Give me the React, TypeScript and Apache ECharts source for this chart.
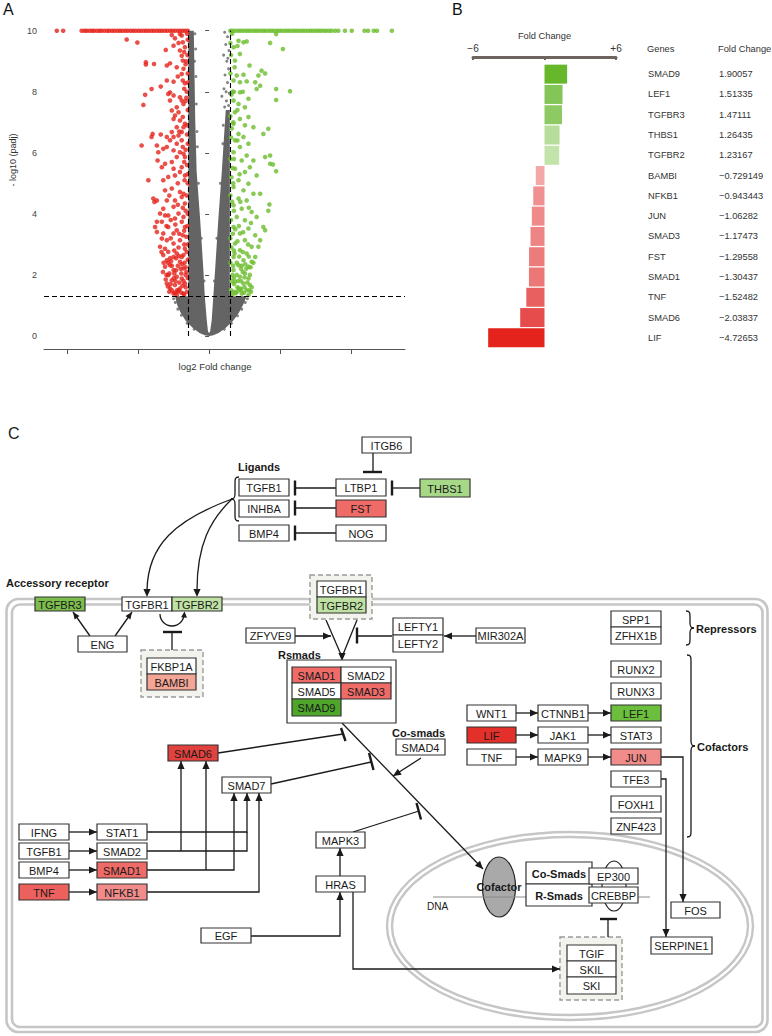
import React, { useEffect, useRef } from "react";
import * as echarts from "echarts";

const FONT = '"Liberation Sans", Arial, Helvetica, sans-serif';

// ---------------- Panel A: volcano plot data (log2 fold change, -log10 padj) ----------------
const xTicksA = [-4, -2, 0, 2, 4];
const foldThreshold = 0.585;
const padjThreshold = 1.3;
const capY = 10;

const redCapX = [-4.29, -4.11, -3.59, -3.51, -3.45, -3.37, -3.3, -3.24, -3.16, -3.09, -3.03, -2.95, -2.87, -2.81, -2.73, -2.66, -2.58, -2.51, -2.44, -2.36, -2.29, -2.21, -2.14, -2.07, -1.99, -1.92, -1.84, -1.77, -1.7, -1.62, -1.55, -1.47, -1.4, -1.33, -1.25, -1.18, -1.1, -1.03, -0.96, -0.88, -0.81, -0.74, -0.67, -0.6];
const greenCapX = [0.6, 0.66, 0.73, 0.81, 0.88, 0.95, 1.03, 1.1, 1.17, 1.25, 1.32, 1.39, 1.47, 1.54, 1.61, 1.69, 1.76, 1.83, 1.91, 1.98, 2.05, 2.13, 2.2, 2.27, 2.35, 2.42, 2.49, 2.57, 2.64, 2.71, 2.79, 2.86, 2.93, 3.01, 3.08, 3.15, 3.23, 3.3, 3.38, 3.45, 3.55, 3.64, 3.83, 4.02, 4.38, 4.48, 4.64, 4.73, 5.15];

const redPoints = [
  [-2.32, 9.71], [-2.02, 9.61], [-1.05, 9.86], [-0.82, 9.89], [-0.77, 9.84], [-0.96, 9.75], [-1.22, 9.37], [-1.0, 9.51], [-0.74, 9.62], [-0.68, 9.46], [-0.82, 9.35], [-1.78, 8.97], [-1.78, 8.89], [-1.55, 8.91], [-1.19, 8.86], [-1.1, 8.93], [-0.77, 9.18], [-0.74, 9.02], [-0.91, 8.8], [-0.72, 8.75], [-0.77, 8.58], [-1.0, 8.33], [-0.74, 8.37], [-0.68, 8.28], [-1.19, 8.37], [-1.36, 8.17], [-1.62, 8.09], [-1.8, 7.9], [-1.85, 7.57], [-1.1, 7.98], [-1.15, 7.93], [-1.0, 7.88], [-0.82, 7.82], [-0.77, 7.71], [-0.72, 7.6], [-0.91, 7.49], [-1.1, 7.71], [-1.05, 7.39], [-0.86, 7.33], [-0.74, 7.17], [-0.96, 7.22], [-1.0, 7.11], [-0.82, 7.06], [-0.68, 6.95], [-0.72, 6.84], [-0.91, 6.84], [-0.77, 6.68], [-1.05, 6.68], [-1.59, 6.62], [-1.62, 6.52], [-1.36, 6.6], [-1.9, 6.24], [-1.19, 6.52], [-1.0, 6.52], [-0.86, 6.57], [-0.77, 6.41], [-0.74, 6.19], [-0.91, 6.3], [-1.1, 6.41], [-1.47, 6.24], [-1.29, 6.13], [-1.43, 6.02], [-1.19, 6.19], [-1.0, 6.08], [-0.82, 6.02], [-0.72, 5.97], [-0.68, 5.86], [-0.91, 5.86], [-1.05, 5.7], [-1.24, 5.64], [-1.45, 5.75], [-1.71, 5.1], [-1.33, 5.53], [-1.0, 5.48], [-0.77, 5.53], [-0.82, 5.37], [-0.96, 5.26], [-0.68, 5.26], [-1.15, 5.21], [-1.29, 5.1], [-1.57, 4.5], [-1.54, 4.39], [-1.47, 4.44], [-1.24, 4.77], [-1.05, 4.83], [-0.82, 4.72], [-0.72, 4.66], [-0.77, 4.55], [-1.19, 4.44], [-0.96, 4.44], [-0.68, 4.34], [-1.0, 4.23], [-1.29, 4.17], [-1.38, 4.01], [-1.15, 3.95], [-0.86, 4.01], [-0.72, 3.9], [-0.96, 3.85], [-1.47, 3.74], [-1.33, 3.74], [-0.77, 3.74], [-0.68, 3.57], [-1.52, 3.57], [-1.15, 3.57], [-0.91, 3.46], [-1.47, 3.41], [-1.29, 3.36], [-1.0, 3.36], [-0.74, 3.3], [-1.33, 3.19], [-1.19, 3.14], [-0.82, 3.14], [-1.0, 3.03], [-1.38, 2.92], [-1.24, 2.86], [-0.68, 2.86], [-1.15, 2.76], [-0.91, 2.7], [-1.29, 2.65], [-1.0, 2.59], [-0.77, 2.59], [-1.19, 2.48], [-0.82, 2.43], [-1.1, 2.32], [-1.24, 2.27], [-1.0, 2.16], [-0.72, 2.21], [-1.15, 1.99], [-0.91, 1.94], [-1.05, 1.83], [-0.77, 1.88], [-1.19, 1.72], [-0.96, 1.67], [-0.68, 1.72], [-1.1, 1.56], [-0.82, 1.56], [-1.0, 1.39], [-0.72, 1.39], [-0.91, 1.34],
  [-0.62, 1.45], [-0.66, 1.6], [-0.6, 1.9], [-0.64, 2.1], [-0.6, 2.5], [-0.63, 2.75], [-0.6, 3.0], [-0.64, 3.25], [-0.61, 3.6], [-0.6, 4.0], [-0.63, 4.6], [-0.6, 5.0], [-0.62, 5.6], [-0.6, 6.3], [-0.62, 6.9], [-0.6, 7.4], [-0.63, 8.0], [-0.6, 8.6], [-0.61, 9.2], [-0.6, 9.7], [-0.85, 1.5], [-0.95, 1.8], [-1.12, 2.05], [-0.88, 2.3], [-1.07, 2.45], [-0.78, 2.05], [-0.93, 2.55], [-1.2, 2.0], [-1.28, 2.4], [-0.86, 2.9], [-1.08, 3.2], [-1.2, 3.6], [-0.7, 3.0], [-0.88, 1.45], [-1.05, 1.5], [-0.75, 1.65], [-0.66, 2.0], [-0.98, 2.05], [-0.8, 2.2], [-0.69, 2.4], [-0.6, 5.3], [-0.66, 4.1], [-0.62, 6.6], [-0.64, 7.8], [-0.6, 8.3], [-0.65, 9.0], [-0.62, 9.9],
  [-0.7, 1.35], [-0.78, 1.42], [-0.9, 1.5], [-0.97, 1.42], [-1.12, 1.45], [-1.16, 1.62], [-0.72, 1.8], [-0.84, 1.75], [-0.99, 1.9], [-1.08, 1.7], [-1.22, 1.85], [-0.66, 2.25], [-0.76, 2.35], [-0.93, 2.15], [-1.05, 2.3], [-1.16, 2.4], [-1.3, 2.1], [-0.72, 2.65], [-0.85, 2.62], [-0.98, 2.8], [-1.1, 2.55], [-1.34, 2.75], [-0.7, 3.45], [-0.84, 3.35], [-0.95, 3.65], [-1.08, 3.8], [-1.24, 3.95], [-0.74, 4.2], [-0.88, 4.3], [-1.12, 4.6], [-0.69, 5.1], [-0.88, 5.0], [-0.7, 5.7], [-0.66, 6.1], [-0.84, 6.7], [-0.66, 7.7], [-0.7, 8.1], [-0.88, 8.5], [-0.66, 8.9], [-0.7, 9.3], [-0.86, 9.6]
];

const greenPoints = [
  [1.89, 9.89], [0.83, 9.67], [0.97, 9.62], [1.06, 9.65], [1.72, 9.6], [2.08, 9.4], [0.69, 9.46], [0.87, 9.24], [0.73, 9.02], [1.14, 8.86], [1.48, 8.69], [1.58, 8.6], [1.39, 8.53], [0.97, 8.56], [0.78, 8.53], [0.69, 8.37], [0.87, 8.31], [1.06, 8.34], [1.3, 8.31], [1.44, 8.2], [1.34, 8.09], [1.89, 8.09], [2.28, 8.02], [1.89, 7.73], [1.11, 7.77], [0.87, 7.98], [0.69, 7.71], [0.83, 7.6], [1.01, 7.49], [0.73, 7.33], [1.11, 7.17], [0.87, 7.11], [0.69, 6.95], [1.01, 6.9], [1.25, 6.84], [1.67, 6.79], [1.53, 6.62], [0.83, 6.62], [0.97, 6.52], [0.73, 6.41], [1.11, 6.3], [0.87, 6.19], [0.69, 6.02], [1.06, 5.91], [1.58, 5.86], [1.72, 5.91], [1.25, 5.75], [0.92, 5.75], [1.72, 5.64], [1.8, 5.62], [1.89, 5.4], [1.15, 5.53], [0.73, 5.48], [1.01, 5.37], [1.34, 5.26], [0.83, 5.1], [1.11, 4.99], [0.69, 4.88], [0.97, 4.77], [1.25, 4.66], [1.44, 4.66], [0.83, 4.5], [1.06, 4.44], [1.7, 4.31], [1.67, 4.1], [0.69, 4.28], [0.92, 4.17], [1.2, 4.06], [1.34, 3.9], [0.78, 3.9], [1.01, 3.79], [1.53, 3.57], [1.58, 3.46], [0.69, 3.57], [1.11, 3.52], [0.87, 3.36], [1.3, 3.3], [1.44, 3.14], [1.01, 3.14], [0.73, 3.03], [1.2, 2.92], [1.39, 2.92], [0.87, 2.81], [1.06, 2.7], [1.3, 2.59], [0.69, 2.59], [0.97, 2.48], [1.2, 2.43], [0.83, 2.32], [1.11, 2.27], [0.69, 2.16], [1.01, 2.05], [0.87, 1.94], [1.11, 1.88], [0.73, 1.78], [0.97, 1.72], [1.15, 1.67], [0.83, 1.56], [1.06, 1.5], [0.69, 1.45], [0.92, 1.39], [1.11, 1.34],
  [0.62, 1.5], [0.64, 1.8], [0.6, 2.4], [0.63, 2.9], [0.6, 3.2], [0.62, 3.8], [0.6, 4.6], [0.63, 5.2], [0.6, 5.8], [0.62, 6.5], [0.6, 7.2], [0.63, 7.9], [0.6, 8.6], [0.62, 9.2], [0.6, 9.6], [0.8, 1.6], [0.9, 1.8], [1.0, 1.6], [0.78, 2.0], [0.95, 2.1], [0.85, 2.6], [1.05, 2.2], [1.15, 2.0], [0.75, 1.4], [1.2, 1.6], [1.25, 2.4], [0.8, 3.1], [1.1, 3.0], [0.7, 1.7], [0.88, 1.5], [0.66, 2.0], [0.92, 2.3], [0.7, 2.8], [1.18, 1.45], [0.74, 3.5], [0.65, 4.4], [0.66, 5.5], [0.64, 6.8], [0.66, 8.0], [0.65, 9.9],
  [0.66, 1.35], [0.78, 1.45], [0.9, 1.55], [0.98, 1.42], [1.13, 1.5], [0.7, 1.9], [0.82, 1.8], [1.0, 1.92], [1.08, 1.75], [0.68, 2.3], [0.78, 2.4], [0.9, 2.2], [1.02, 2.35], [1.17, 2.25], [0.72, 2.7], [0.95, 2.75], [1.12, 2.6], [0.67, 3.35], [0.84, 3.6], [0.96, 3.4], [1.18, 3.7], [0.7, 4.1], [0.88, 4.4], [1.12, 4.2], [0.68, 5.0], [0.86, 5.3], [0.7, 5.8], [0.8, 6.4], [0.68, 7.0], [0.8, 7.4], [0.7, 8.0], [0.95, 8.0], [0.72, 8.8], [0.8, 9.5]
];

// dense core of non-significant genes (outline of the grey cloud)
const grayCore = [
  [-0.585, 10], [-0.585, 1.3], [-0.96, 1.3], [-0.9, 1.02], [-0.8, 0.76], [-0.66, 0.5], [-0.47, 0.28], [-0.27, 0.1], [-0.1, 0.02], [0, 0], [0.1, 0.02], [0.27, 0.1], [0.48, 0.28], [0.68, 0.5], [0.84, 0.76], [0.96, 1.02], [1.06, 1.3], [0.585, 1.3], [0.585, 7.4], [0.47, 7.4], [0.42, 6.5], [0.36, 5.4], [0.26, 3.8], [0.17, 2.16], [0.12, 1.3], [0.075, 0.52], [0.03, 0.15], [0, 0.1], [-0.03, 0.15], [-0.065, 0.52], [-0.12, 1.3], [-0.16, 2.16], [-0.25, 3.8], [-0.35, 5.4], [-0.39, 7.1], [-0.41, 8.6], [-0.43, 10]
];
const grayPoints = [
  [0.44, 9.95], [0.52, 9.8], [0.47, 9.55], [0.56, 9.35], [0.41, 9.2], [0.5, 9.0], [0.55, 8.75], [0.45, 8.55], [0.52, 8.3], [0.42, 8.1], [0.36, 7.85], [0.57, 7.95], [0.49, 7.7], [0.55, 7.55], [0.44, 7.5], [0.53, 9.1], [0.48, 8.0],
  [-0.4, 9.9], [-0.38, 9.4], [-0.37, 8.5], [-0.36, 7.6], [-0.41, 9.0],
  [-1.0, 1.22], [-0.95, 1.1], [-0.88, 0.88], [-0.78, 0.68], [-0.62, 0.42], [-0.42, 0.22], [1.08, 1.22], [1.02, 1.1], [0.92, 0.88], [0.8, 0.66], [0.63, 0.42], [0.43, 0.22],
  [-0.3, 5.0], [-0.22, 3.2], [-0.14, 1.8], [0.32, 5.0], [0.22, 3.2], [0.15, 1.8], [-0.33, 6.2], [0.39, 6.3], [0.4, 6.9], [-0.34, 6.7]
];

// ---------------- Panel B: fold change of pathway genes ----------------
const genesB = ["SMAD9", "LEF1", "TGFBR3", "THBS1", "TGFBR2", "BAMBI", "NFKB1", "JUN", "SMAD3", "FST", "SMAD1", "TNF", "SMAD6", "LIF"];
const foldB = [1.90057, 1.51335, 1.47111, 1.26435, 1.23167, -0.729149, -0.943443, -1.06282, -1.17473, -1.29558, -1.30437, -1.52482, -2.03837, -4.72653];
const colorsB = ["#66b82a", "#84c557", "#8dca63", "#b6dd9a", "#c2e3aa", "#f4a7a7", "#f09090", "#ef8a8a", "#ee8585", "#ec7c7c", "#eb7777", "#e86060", "#e64c4c", "#e3231c"];

// ---------------- Panel C: pathway diagram layout ----------------
const RED1 = "#e3302a", RED_S6 = "#e2423e", RED2 = "#ee6b68", RED3 = "#ec615d", PINK = "#f28c8b", SALMON = "#f3a596";
const G_DARK = "#4ea62b", G_LEF = "#6cbf3c", G_MID = "#7dbd4d", G_LIGHT = "#a6d888", G_PALE = "#bfe1a4", W = "#ffffff";

const nodesC: any[] = [
  ["ITGB6", 362, 437, 411, 453, W], ["TGFB1", 239, 479, 289, 496, W], ["INHBA", 239, 500, 289, 517, W], ["BMP4", 239, 525, 289, 541, W],
  ["LTBP1", 336, 479, 386, 496, W], ["FST", 336, 500, 386, 517, RED2], ["NOG", 336, 525, 386, 541, W], ["THBS1", 420, 479, 470, 497, G_LIGHT],
  ["TGFBR3", 35, 597, 85, 611, G_MID], ["TGFBR1", 122, 597, 172, 611, W], ["TGFBR2", 172, 597, 222, 611, G_PALE], ["ENG", 78, 636, 127, 652, W],
  ["FKBP1A", 147, 658, 196, 674, W], ["BAMBI", 147, 674, 196, 690, SALMON],
  ["TGFBR1", 317, 581, 366, 597, W], ["TGFBR2", 317, 597, 366, 613, G_PALE], ["ZFYVE9", 246, 628, 295, 643, W],
  ["LEFTY1", 393, 618, 443, 635, W], ["LEFTY2", 393, 635, 443, 652, W], ["MIR302A", 476, 628, 525, 643, W],
  ["SPP1", 611, 611, 661, 627, W], ["ZFHX1B", 611, 627, 661, 644, W], ["RUNX2", 611, 661, 661, 677, W], ["RUNX3", 611, 683, 661, 699, W],
  ["SMAD1", 292, 667, 341, 683, RED2], ["SMAD2", 341, 667, 391, 683, W], ["SMAD5", 292, 683, 341, 699, W], ["SMAD3", 341, 683, 391, 699, RED2], ["SMAD9", 292, 699, 341, 716, G_DARK],
  ["WNT1", 467, 705, 516, 721, W], ["CTNNB1", 538, 705, 588, 721, W], ["LEF1", 611, 705, 661, 721, G_LEF],
  ["LIF", 467, 727, 516, 743, RED1], ["JAK1", 538, 727, 588, 743, W], ["STAT3", 611, 727, 661, 743, W],
  ["TNF", 467, 749, 516, 765, W], ["MAPK9", 538, 749, 588, 765, W], ["JUN", 611, 749, 661, 765, PINK],
  ["TFE3", 611, 771, 661, 787, W], ["FOXH1", 611, 796, 661, 812, W], ["ZNF423", 611, 818, 661, 834, W],
  ["SMAD4", 396, 739, 445, 755, W], ["SMAD6", 168, 745, 218, 761, RED_S6], ["SMAD7", 222, 777, 271, 793, W],
  ["IFNG", 19, 824, 69, 840, W], ["STAT1", 97, 824, 147, 840, W], ["TGFB1", 19, 843, 69, 859, W], ["SMAD2", 97, 843, 147, 859, W],
  ["BMP4", 19, 862, 69, 878, W], ["SMAD1", 97, 862, 147, 878, RED2], ["TNF", 19, 884, 69, 900, RED3], ["NFKB1", 97, 884, 147, 900, PINK],
  ["MAPK3", 316, 832, 365, 848, W], ["HRAS", 316, 876, 365, 892, W], ["EGF", 201, 928, 251, 943, W],
  ["EP300", 589, 868, 638, 884, W], ["CREBBP", 589, 887, 638, 903, W], ["FOS", 671, 902, 720, 918, W], ["SERPINE1", 651, 937, 712, 954, W],
  ["TGIF", 567, 945, 616, 961, W], ["SKIL", 567, 961, 616, 977, W], ["SKI", 567, 977, 616, 994, W]
];
const boldBoxesC: any[] = [["Co-Smads", 526, 862, 592, 884], ["R-Smads", 526, 884, 592, 906]];
const groupLabelsC: any[] = [
  ["Ligands", 238, 467], ["Accessory receptor", 6, 583], ["Rsmads", 278, 655], ["Co-smads", 392, 733], ["Repressors", 696, 629], ["Cofactors", 697, 747]
];

const LINE = "#1a1a1a";

function buildDiagram() {
  const bg: any[] = [];
  const lines: any[] = [];
  const boxes: any[] = [];
  const texts: any[] = [];
  const txt = (s: string, x: number, y: number, size: number, opts: any = {}) => {
    const a = opts.align || "center";
    texts.push({
      type: "text", x, y, z: 30,
      style: {
        text: s, fill: opts.fill || "#1a1a1a", fontSize: size, fontFamily: FONT, fontWeight: opts.bold ? "bold" : "normal",
        align: a, textAlign: a, verticalAlign: "middle", textVerticalAlign: "middle"
      }
    });
  };
  const ln = (x1: number, y1: number, x2: number, y2: number, w = 1.3) =>
    lines.push({ type: "line", z: 20, shape: { x1, y1, x2, y2 }, style: { stroke: LINE, lineWidth: w } });
  const pl = (points: number[][]) =>
    lines.push({ type: "polyline", z: 20, shape: { points }, style: { stroke: LINE, lineWidth: 1.3, fill: null } });
  const head = (tx: number, ty: number, fx: number, fy: number, len = 8, half = 3.6) => {
    const dx = tx - fx, dy = ty - fy, d = Math.hypot(dx, dy) || 1;
    const ux = dx / d, uy = dy / d, bx = tx - ux * len, by = ty - uy * len;
    lines.push({ type: "polygon", z: 21, shape: { points: [[tx, ty], [bx - uy * half, by + ux * half], [bx + uy * half, by - ux * half]] }, style: { fill: LINE } });
  };
  const arrow = (pts: number[][], len = 8, half = 3.6) => {
    pl(pts);
    const n = pts.length;
    head(pts[n - 1][0], pts[n - 1][1], pts[n - 2][0], pts[n - 2][1], len, half);
  };
  const inhibit = (pts: number[][], b1: number[], b2: number[]) => {
    pl(pts);
    ln(b1[0], b1[1], b2[0], b2[1], 2.4);
  };
  const bez = (x1: number, y1: number, cpx1: number, cpy1: number, cpx2: number, cpy2: number, x2: number, y2: number) =>
    lines.push({ type: "bezierCurve", z: 20, shape: { x1, y1, cpx1, cpy1, cpx2, cpy2, x2, y2 }, style: { stroke: LINE, lineWidth: 1.3, fill: null } });
  const brace = (x: number, y1: number, y2: number, dir: number) => {
    const w = 4 * dir, t = 4 * dir, ym = (y1 + y2) / 2;
    bez(x, y1, x + w, y1, x + w, y1 + 2, x + w, y1 + 6);
    ln(x + w, y1 + 6, x + w, ym - 5);
    bez(x + w, ym - 5, x + w, ym - 1, x + w + dir, ym, x + w + t, ym);
    bez(x + w + t, ym, x + w + dir, ym, x + w, ym + 1, x + w, ym + 5);
    ln(x + w, ym + 5, x + w, y2 - 6);
    bez(x + w, y2 - 6, x + w, y2 - 2, x + w, y2, x, y2);
  };

  // membrane (double rounded rectangle)
  bg.push({ type: "rect", z: 1, shape: { x: 6.5, y: 599, width: 761, height: 433, r: 12 }, style: { fill: null, stroke: "#c6c6c6", lineWidth: 2.6 } });
  bg.push({ type: "rect", z: 1, shape: { x: 12, y: 604.5, width: 750.5, height: 422.5, r: 8 }, style: { fill: null, stroke: "#c6c6c6", lineWidth: 2.6 } });
  // nucleus (double ellipse)
  bg.push({ type: "ellipse", z: 1, shape: { cx: 570, cy: 926, rx: 183, ry: 94 }, style: { fill: null, stroke: "#c6c6c6", lineWidth: 2.4 } });
  bg.push({ type: "ellipse", z: 1, shape: { cx: 570, cy: 926, rx: 178, ry: 89 }, style: { fill: null, stroke: "#c6c6c6", lineWidth: 2.4 } });
  // dashed complex boxes
  const dashed = (x1: number, y1: number, x2: number, y2: number) =>
    bg.push({ type: "rect", z: 5, shape: { x: x1, y: y1, width: x2 - x1, height: y2 - y1 }, style: { fill: "#f3f3ed", stroke: "#9a9a9a", lineWidth: 1.4, lineDash: [5, 3] } });
  dashed(141, 650, 203, 697);
  dashed(310, 575, 372, 619);
  dashed(560, 937, 622, 1000);
  // DNA, cofactor, coactivator shapes
  bg.push({ type: "ellipse", z: 6, shape: { cx: 499, cy: 887, rx: 16.5, ry: 30 }, style: { fill: "#a9a9a9", stroke: "#222", lineWidth: 1.2 } });
  bg.push({ type: "ellipse", z: 6, shape: { cx: 614, cy: 886, rx: 12, ry: 25 }, style: { fill: "#fff", stroke: "#222", lineWidth: 1.2 } });
  bg.push({ type: "line", z: 7, shape: { x1: 433, y1: 897, x2: 650, y2: 897 }, style: { stroke: "#8a8a8a", lineWidth: 1 } });

  // ---- edges ----
  inhibit([[373, 453], [373, 472]], [363, 472], [382, 472]);
  inhibit([[336, 488], [295, 488]], [295, 480.5], [295, 495.5]);
  inhibit([[336, 508], [295, 508]], [295, 500.5], [295, 515.5]);
  inhibit([[336, 533], [295, 533]], [295, 525.5], [295, 540.5]);
  inhibit([[420, 488], [392, 488]], [392, 480.5], [392, 495.5]);
  brace(239, 477, 521, -1);
  bez(232, 499, 175, 520, 148, 545, 147, 590);
  head(147, 597, 147, 588);
  bez(232, 499, 210, 520, 197, 545, 197, 590);
  head(197, 597, 197, 588);
  arrow([[90, 636], [73, 612]], 7, 3);
  arrow([[115, 636], [132, 612]], 7, 3);
  lines.push({ type: "arc", z: 20, shape: { cx: 172, cy: 614, r: 12, startAngle: Math.PI, endAngle: 0, clockwise: false }, style: { stroke: LINE, lineWidth: 1.3, fill: null } });
  head(184.5, 611.5, 184, 618, 6, 3);
  inhibit([[172, 650], [172, 632]], [163, 632], [182, 632]);
  arrow([[295, 636], [331, 636]]);
  pl([[326, 620], [342, 657]]);
  pl([[357, 620], [342, 657]]);
  head(342, 661, 342, 652);
  inhibit([[392, 636], [357, 636]], [357, 627.5], [357, 643.5]);
  arrow([[476, 636], [444, 636]]);
  arrow([[516, 713], [538, 713]]);
  arrow([[588, 713], [611, 713]]);
  arrow([[516, 735], [538, 735]]);
  arrow([[588, 735], [611, 735]]);
  arrow([[516, 757], [538, 757]]);
  arrow([[588, 757], [611, 757]]);
  arrow([[661, 757], [683, 757], [683, 902]]);
  arrow([[661, 779], [666, 779], [666, 937]]);
  brace(686, 611, 645, 1);
  brace(687, 655, 837, 1);
  arrow([[421, 758], [393, 776]]);
  arrow([[342, 723], [483, 869]]);
  inhibit([[218, 753], [343, 734]], [341, 728], [345.5, 741]);
  inhibit([[271, 784], [371, 762]], [369, 753], [373.5, 770]);
  inhibit([[353, 832], [419, 811]], [416.5, 803], [421, 819.5]);
  arrow([[69, 832], [97, 832]]);
  arrow([[69, 851], [97, 851]]);
  arrow([[69, 870], [97, 870]]);
  arrow([[69, 892], [97, 892]]);
  arrow([[147, 832], [247, 832], [247, 793]]);
  pl([[147, 851], [247, 851], [247, 832]]);
  arrow([[181, 851], [181, 761]]);
  arrow([[147, 870], [234, 870], [234, 793]]);
  arrow([[206, 870], [206, 761]]);
  arrow([[147, 892], [259, 892], [259, 793]]);
  arrow([[340, 876], [340, 848]]);
  arrow([[251, 936], [340, 936], [340, 892]]);
  arrow([[353, 892], [353, 969], [560, 969]]);
  inhibit([[608, 937], [608, 919]], [600, 919], [617, 919]);

  // ---- boxes ----
  boxes.push({ type: "rect", z: 24, shape: { x: 287, y: 660, width: 109, height: 63 }, style: { fill: "#fff", stroke: "#333", lineWidth: 1.2 } });
  nodesC.forEach((n) => {
    const [label, x1, y1, x2, y2, fill] = n;
    boxes.push({ type: "rect", z: 25, shape: { x: x1, y: y1, width: x2 - x1, height: y2 - y1 }, style: { fill, stroke: "#333", lineWidth: 1.2 } });
    txt(label, (x1 + x2) / 2, (y1 + y2) / 2 + 0.5, 11);
  });
  boldBoxesC.forEach((n) => {
    const [label, x1, y1, x2, y2] = n;
    boxes.push({ type: "rect", z: 24, shape: { x: x1, y: y1, width: x2 - x1, height: y2 - y1 }, style: { fill: "#fff", stroke: "#333", lineWidth: 1.2 } });
    txt(label, (x1 + x2) / 2, (y1 + y2) / 2 + 0.5, 11, { bold: true });
  });
  groupLabelsC.forEach((g) => txt(g[0], g[1], g[2], 11, { bold: true, align: "left" }));
  txt("Cofactor", 499, 887, 11, { bold: true });
  txt("DNA", 427, 906, 10, { align: "left" });
  txt("C", 8, 433, 16, { align: "left" });

  return [...bg, ...lines, ...boxes, ...texts];
}

const fmtFold = (v: number) => (v < 0 ? "\u2212" + Math.abs(v) : String(v));

function buildOption() {
  const capRed = redCapX.map((x) => [x, capY]);
  const capGreen = greenCapX.map((x) => [x, capY]);
  const topTexts: any[] = [
    ["A", 3, 9, 16, "left", 0], ["B", 452, 9, 16, "left", 0],
    ["log2 Fold change", 215, 366, 9.5, "center", 0], ["- log10 (padj)", 13, 160, 9, "center", Math.PI / 2],
    ["Genes", 647, 49, 9.3, "left", 0], ["Fold Change", 718, 49, 9.3, "left", 0]
  ].map((t) => ({
    type: "text", x: t[1], y: t[2], rotation: t[5],
    style: { text: t[0], fill: t[0] === "A" || t[0] === "B" ? "#111" : "#333", fontSize: t[3], fontFamily: FONT, align: t[4], textAlign: t[4], verticalAlign: "middle", textVerticalAlign: "middle" }
  }));

  return {
    animation: false,
    backgroundColor: "#ffffff",
    textStyle: { fontFamily: FONT },
    grid: [
      { left: 44, top: 30.7, width: 361, height: 305.3 },
      { left: 473, top: 64, width: 143, height: 284 }
    ],
    xAxis: [
      {
        gridIndex: 0, type: "value", min: -4.65, max: 5.52, offset: 13,
        axisLine: { show: true, onZero: false, lineStyle: { color: "#555", width: 1 } },
        axisTick: { show: true, length: 5, customValues: xTicksA, lineStyle: { color: "#555" } },
        axisLabel: { show: false }, splitLine: { show: false }
      },
      {
        gridIndex: 1, type: "value", position: "top", min: -6, max: 6, interval: 6, offset: 7,
        name: "Fold Change", nameLocation: "middle", nameGap: 17, nameTextStyle: { fontSize: 9.3, color: "#333" },
        axisLine: { show: true, onZero: false, lineStyle: { color: "#6d6460", width: 3 } },
        axisTick: { show: true, inside: true, length: 3, lineStyle: { color: "#6d6460", width: 2 } },
        axisLabel: { fontSize: 10, color: "#333", margin: 4, formatter: (v: number) => (v < 0 ? "\u22126" : v > 0 ? "+6" : "") },
        splitLine: { show: false }
      }
    ],
    yAxis: [
      {
        gridIndex: 0, type: "value", min: 0, max: 10, interval: 2, offset: 4,
        axisLine: { show: false }, axisTick: { show: true, length: 4, lineStyle: { color: "#555" } },
        axisLabel: { fontSize: 9, color: "#444", margin: 3 }, splitLine: { show: false }
      },
      { gridIndex: 1, type: "category", inverse: true, data: genesB, show: false },
      {
        gridIndex: 1, type: "category", inverse: true, data: genesB, position: "right", offset: 32,
        axisLine: { show: false }, axisTick: { show: false }, axisLabel: { align: "left", margin: 0, fontSize: 9.3, color: "#333" }
      },
      {
        gridIndex: 1, type: "category", inverse: true, data: foldB.map(fmtFold), position: "right", offset: 103,
        axisLine: { show: false }, axisTick: { show: false }, axisLabel: { align: "left", margin: 0, fontSize: 9.3, color: "#333" }
      }
    ],
    series: [
      {
        type: "custom", xAxisIndex: 0, yAxisIndex: 0, z: 1, silent: true, clip: false,
        data: grayCore, encode: { x: 0, y: 1 },
        renderItem: (params: any, api: any) => {
          if (params.dataIndex !== 0) return null;
          return { type: "polygon", shape: { points: grayCore.map((p) => api.coord(p)) }, style: { fill: "#646464" } };
        }
      },
      { type: "scatter", xAxisIndex: 0, yAxisIndex: 0, z: 2, clip: false, symbolSize: 3, itemStyle: { color: "#646464" }, data: grayPoints },
      { type: "scatter", xAxisIndex: 0, yAxisIndex: 0, z: 3, clip: false, symbolSize: 4.6, itemStyle: { color: "#e5231c" }, data: [...redPoints, ...capRed] },
      { type: "scatter", xAxisIndex: 0, yAxisIndex: 0, z: 3, clip: false, symbolSize: 4.6, itemStyle: { color: "#6bbd2d" }, data: [...greenPoints, ...capGreen] },
      {
        type: "scatter", xAxisIndex: 0, yAxisIndex: 0, z: 6, symbolSize: 0, data: [[0, 0]], silent: true,
        markLine: {
          silent: true, symbol: ["none", "none"], label: { show: false },
          lineStyle: { type: [5, 3], color: "#000", width: 1.1 },
          data: [
            [{ coord: [-foldThreshold, 0] }, { coord: [-foldThreshold, capY] }],
            [{ coord: [foldThreshold, 0] }, { coord: [foldThreshold, capY] }],
            { yAxis: padjThreshold }
          ]
        }
      },
      {
        type: "bar", xAxisIndex: 1, yAxisIndex: 1, barWidth: 19,
        data: foldB.map((v, i) => ({ value: v, itemStyle: { color: colorsB[i] } }))
      }
    ],
    graphic: { elements: [...topTexts, ...buildDiagram()] }
  };
}

export default function App() {
  const ref = useRef<HTMLDivElement>(null);
  useEffect(() => {
    if (!ref.current) return;
    const chart = echarts.init(ref.current, null, { renderer: "svg" });
    chart.setOption(buildOption() as any);
    return () => chart.dispose();
  }, []);
  return <div ref={ref} style={{ position: "absolute", left: 0, top: 0, width: 772, height: 1036, background: "#fff" }} />;
}
